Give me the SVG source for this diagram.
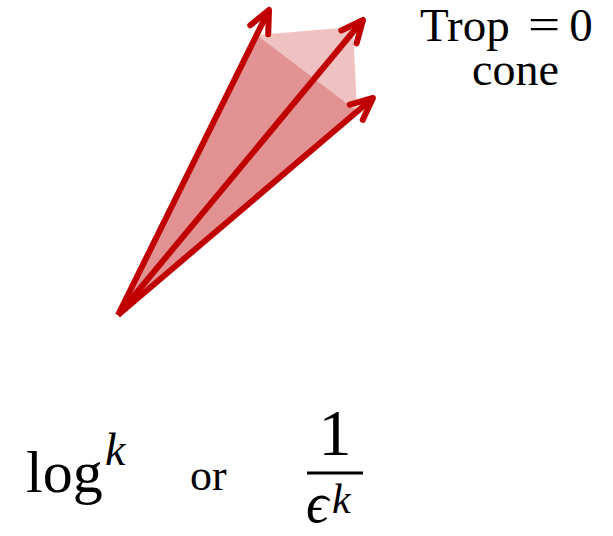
<svg xmlns="http://www.w3.org/2000/svg" width="613" height="536" viewBox="0 0 613 536">
<style>
.t{font-family:"Liberation Serif","DejaVu Serif",serif;fill:#000}
.i{font-style:italic}
.arr{stroke:#c00000;stroke-width:6;fill:none;marker-end:url(#ah)}
</style>
<defs>
<marker id="ah" markerUnits="userSpaceOnUse" viewBox="-30 -15 36 30" refX="0" refY="0" markerWidth="36" markerHeight="30" orient="auto" overflow="visible">
<path d="M-22,-10 L0,0 L-22,10" fill="none" stroke="#c00000" stroke-width="6" stroke-linecap="round" stroke-linejoin="round"/>
</marker>
</defs>
<g id="cone">
<polygon points="257,35 353,27 357,111" fill="#efc1c1"/>
<polygon points="118,315 257,35 357,111" fill="#e29292"/>
</g>
<g id="connectors">
<line class="arr" x1="118" y1="315" x2="269" y2="10"/>
<line class="arr" x1="118" y1="315" x2="363" y2="20"/>
<line class="arr" x1="118" y1="315" x2="373" y2="98"/>
</g>
<g id="label-trop">
<text class="t" font-size="47" x="420" y="41">Trop</text>
<text class="t" font-size="44" x="418.5" y="39" text-anchor="middle" transform="scale(1.3,1)">=</text>
<text class="t" font-size="47" x="581" y="41" text-anchor="middle">0</text>
<text class="t" font-size="46" x="472" y="85">cone</text>
</g>
<g id="label-log">
<text class="t" font-size="60" x="26" y="492">log</text>
<text class="t i" font-size="46" x="105" y="465">k</text>
</g>
<g id="label-or">
<text class="t" font-size="44" x="190" y="490">or</text>
</g>
<g id="label-frac">
<text class="t" font-size="66" x="335" y="455" text-anchor="middle">1</text>
<rect x="307" y="471.5" width="56" height="3" fill="#000"/>
<text class="t i" font-size="56" x="306" y="522">ϵ</text>
<text class="t i" font-size="42" x="332" y="513">k</text>
</g>
</svg>
